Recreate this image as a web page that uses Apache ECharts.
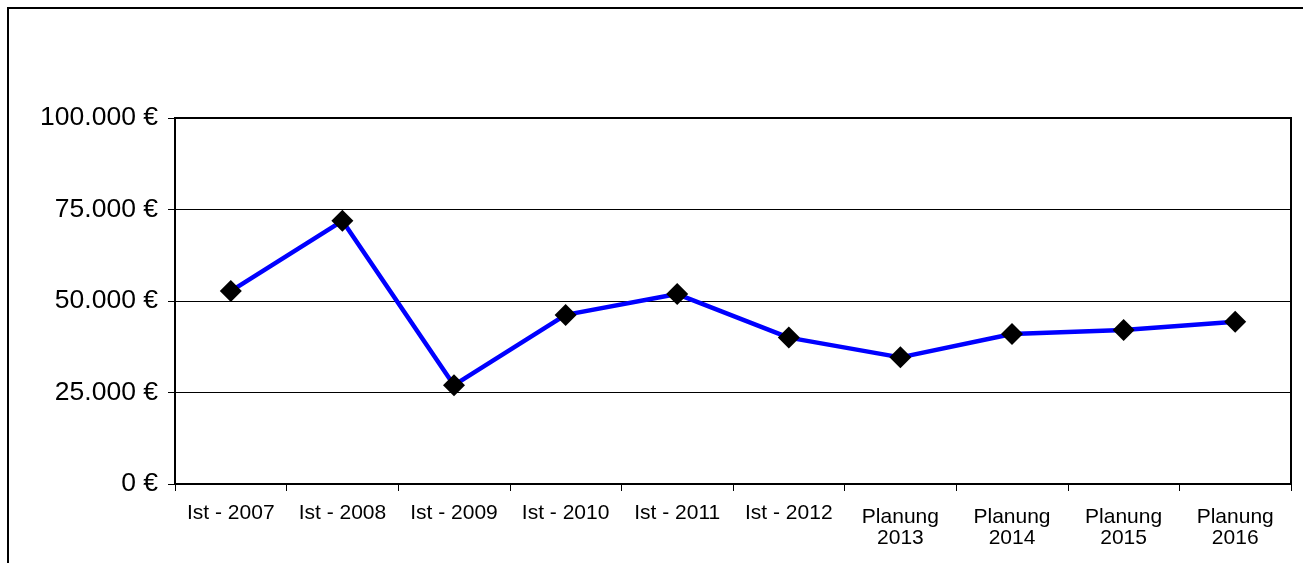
<!DOCTYPE html>
<html>
<head>
<meta charset="utf-8">
<script src="https://cdn.jsdelivr.net/npm/echarts@6/dist/echarts.min.js"></script>
<style>
html,body{margin:0;padding:0;background:#fff;}
#c{width:1303px;height:563px;}
</style>
</head>
<body>
<div id="c"></div>
<script>
const categories = ['Ist - 2007','Ist - 2008','Ist - 2009','Ist - 2010','Ist - 2011','Ist - 2012','Planung\n2013','Planung\n2014','Planung\n2015','Planung\n2016'];
const values = [52700, 71900, 27000, 46200, 51900, 40000, 34600, 41000, 42100, 44300];
const yTickValues = [0, 25000, 50000, 75000, 100000];
const yTickLabels = ['0 €', '25.000 €', '50.000 €', '75.000 €', '100.000 €'];

const chart = echarts.init(document.getElementById('c'), null, {renderer: 'canvas'});
const FONT = '"Liberation Sans", Arial, sans-serif';
const lbl = {color: '#000', fontFamily: FONT, fontSize: 21, lineHeight: 23};
chart.setOption({
  animation: false,
  backgroundColor: '#fff',
  graphic: [{
    type: 'rect', z: 100,
    shape: {x: 8, y: 8, width: 1400, height: 700},
    style: {fill: 'none', stroke: '#000', lineWidth: 2}
  }],
  grid: {
    left: 175, top: 118, right: 12, bottom: 79,
    show: true, borderColor: '#000', borderWidth: 2, backgroundColor: 'transparent'
  },
  xAxis: {
    type: 'category',
    data: categories,
    boundaryGap: true,
    axisLine: {lineStyle: {color: '#000', width: 2}},
    axisTick: {show: true, interval: 0, length: 7, lineStyle: {color: '#000', width: 1}},
    axisLabel: {
      interval: 0, color: '#000', fontFamily: FONT, fontSize: 21, margin: 18, lineHeight: 23,
      formatter: function (v) {
        const parts = v.split('\n');
        if (parts.length === 1) return '{s|' + v + '}';
        return '{a|' + parts[0] + '}\n{b|' + parts[1] + '}';
      },
      rich: {
        s: Object.assign({}, lbl),
        a: Object.assign({}, lbl, {padding: [7, 0, 0, 0]}),
        b: Object.assign({}, lbl, {lineHeight: 27})
      }
    }
  },
  yAxis: {
    type: 'value',
    min: 0, max: 100000, interval: 25000,
    axisLine: {show: true, lineStyle: {color: '#000', width: 2}},
    axisTick: {show: true, length: 7, lineStyle: {color: '#000', width: 1}},
    splitLine: {show: true, lineStyle: {color: '#000', width: 1}},
    axisLabel: {
      color: '#000', fontFamily: FONT, fontSize: 26.5, margin: 17,
      formatter: function (v) { const i = yTickValues.indexOf(v); return i >= 0 ? yTickLabels[i] : ''; }
    }
  },
  series: [{
    type: 'line',
    data: values,
    symbol: 'diamond',
    symbolSize: 22,
    itemStyle: {color: '#000'},
    lineStyle: {color: '#0000ff', width: 4.5},
    z: 5
  }]
});
</script>
</body>
</html>
